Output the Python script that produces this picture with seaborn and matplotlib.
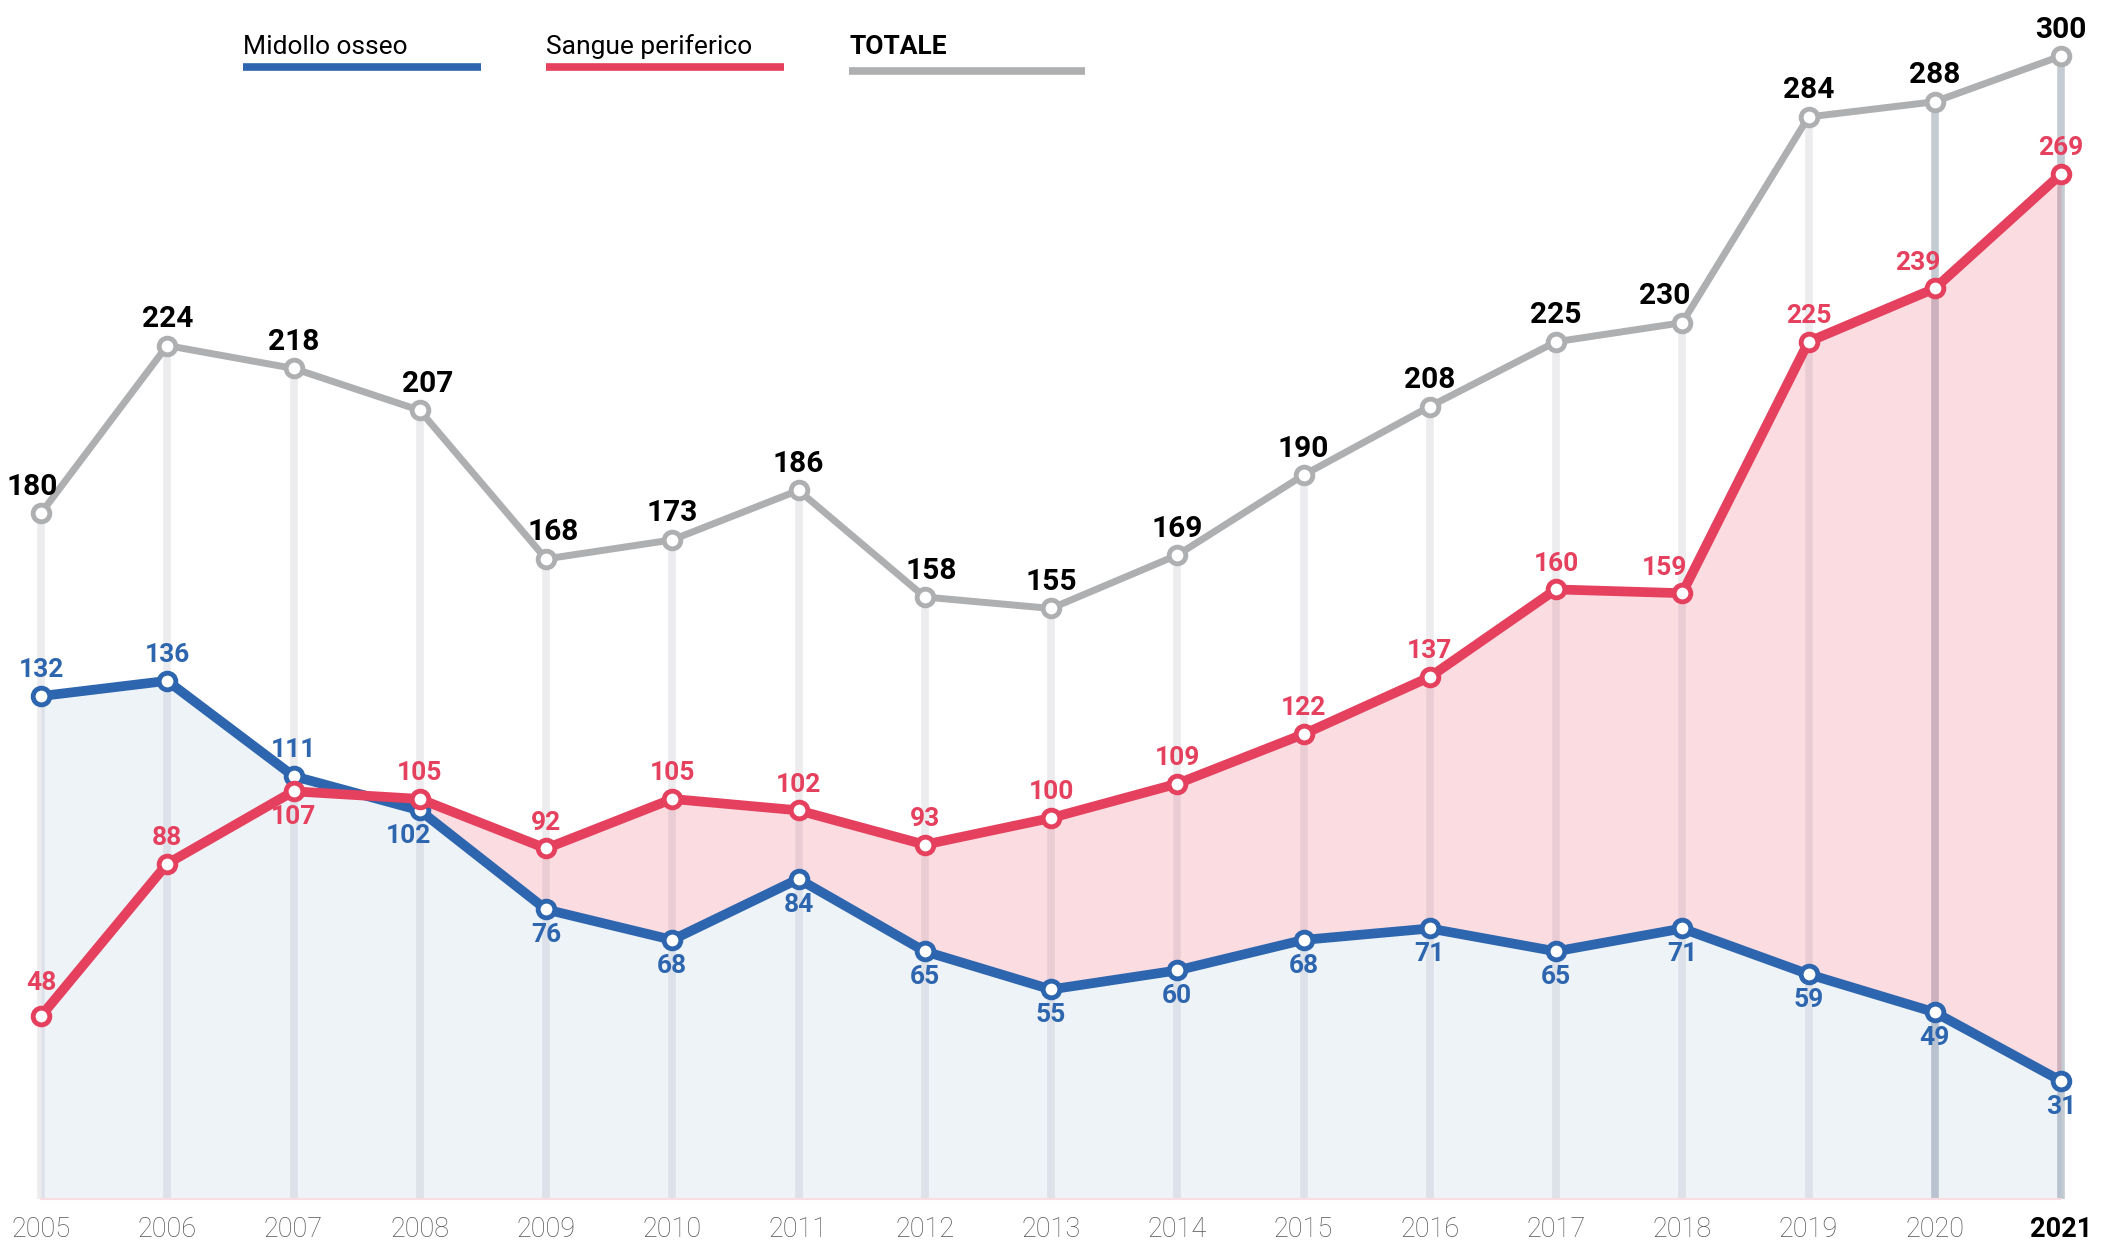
import matplotlib
matplotlib.use("Agg")
import matplotlib.pyplot as plt
from matplotlib.lines import Line2D
import numpy as np
import pandas as pd
import seaborn as sns

# ---- data ----
years = [2005, 2006, 2007, 2008, 2009, 2010, 2011, 2012, 2013,
         2014, 2015, 2016, 2017, 2018, 2019, 2020, 2021]
midollo = [132, 136, 111, 102, 76, 68, 84, 65, 55, 60, 68, 71, 65, 71, 59, 49, 31]
sangue = [48, 88, 107, 105, 92, 105, 102, 93, 100, 109, 122, 137, 160, 159, 225, 239, 269]
totale = [180, 224, 218, 207, 168, 173, 186, 158, 155, 169, 190, 208, 225, 230, 284, 288, 300]
legend_labels = ["Midollo osseo", "Sangue periferico", "TOTALE"]

# label placement (+1 above the point, -1 below)
midollo_side = [1, 1, 1, -1, -1, -1, -1, -1, -1, -1, -1, -1, -1, -1, -1, -1, -1]
sangue_side = [1, 1, -1, 1, 1, 1, 1, 1, 1, 1, 1, 1, 1, 1, 1, 1, 1]

df = pd.DataFrame({"anno": years, "midollo": midollo,
                   "sangue": sangue, "totale": totale})

BLUE = "#2d66ae"
RED = "#e5405e"
GRAY = "#aeafb1"
GRID_LIGHT = "#ececef"
GRID_DARK = "#c5cbd2"

sns.set_theme(style="white")
plt.rcParams["font.family"] = ["Roboto", "DejaVu Sans"]

W, H = 2109, 1243
fig = plt.figure(figsize=(W / 100, H / 100), dpi=100)
ax = fig.add_axes([0, 0, 1, 1])

# pixel -> data layout
px_per_year = 126.25
x0_px = 41
xlim = (2005 - x0_px / px_per_year, 2021 + (W - 2061) / px_per_year)
zero_px, px_per_unit = 1199, 3.81
ylim = (-(H - zero_px) / px_per_unit, zero_px / px_per_unit)
ax.axis("off")

# vertical guides from the baseline up to each total
for yr, tot in zip(years, totale):
    c = GRID_DARK if yr >= 2020 else GRID_LIGHT
    ax.plot([yr, yr], [0, tot], color=c, lw=5.5, zorder=1, solid_capstyle="butt")

# areas
yrs = np.array(years, dtype=float)
mid = np.array(midollo, dtype=float)
san = np.array(sangue, dtype=float)
ax.fill_between(yrs, 0, mid, color=BLUE, alpha=0.08, lw=0, zorder=2)
ax.fill_between(yrs, mid, san, where=san >= mid, interpolate=True,
                color=RED, alpha=0.18, lw=0, zorder=2)
ax.plot([years[0], years[-1]], [0, 0], color="#fadde2", lw=1.5, zorder=2)

# lines
common = dict(marker="o", markersize=12, markerfacecolor="white",
              markeredgewidth=3.5, solid_joinstyle="round", legend=False)
sns.lineplot(data=df, x="anno", y="totale", ax=ax, color=GRAY, lw=5,
             markeredgecolor=GRAY, zorder=3, **common)
sns.lineplot(data=df, x="anno", y="midollo", ax=ax, color=BLUE, lw=7,
             markeredgecolor=BLUE, zorder=4, **common)
sns.lineplot(data=df, x="anno", y="sangue", ax=ax, color=RED, lw=7,
             markeredgecolor=RED, zorder=5, **common)
ax.set_xlim(*xlim)
ax.set_ylim(*ylim)

# value labels
tot_dx = {2005: -6, 2008: 6, 2009: 5, 2012: 5, 2018: -13}
san_dx = {2018: -13, 2020: -12}
san_dy = {2005: 24}
mid_dx = {2008: -8}

for yr, v in zip(years, totale):
    ax.annotate(str(v), (yr, v), xytext=(tot_dx.get(yr, 0), 9),
                textcoords="offset points", ha="center", va="bottom",
                fontsize=21.5, fontweight="bold", color="black", zorder=6)
for yr, v, s in zip(years, midollo, midollo_side):
    ax.annotate(str(v), (yr, v), xytext=(mid_dx.get(yr, 0), 18.5 * s),
                textcoords="offset points", ha="center", va="center",
                fontsize=19, fontweight="bold", color=BLUE, zorder=6)
for yr, v, s in zip(years, sangue, sangue_side):
    ax.annotate(str(v), (yr, v),
                xytext=(san_dx.get(yr, 0), san_dy.get(yr, 18.5) * s),
                textcoords="offset points", ha="center", va="center",
                fontsize=19, fontweight="bold", color=RED, zorder=6)

# year labels
for yr in years:
    last = yr == years[-1]
    ax.text(yr, -7.9, str(yr), ha="center", va="center", fontsize=19.5,
            fontweight="bold" if last else "light",
            color="black" if last else "#555555")

# legend
legend_items = [
    (legend_labels[0], BLUE, 243, 481, 67, "normal"),
    (legend_labels[1], RED, 546, 784, 67, "normal"),
    (legend_labels[2], GRAY, 849, 1085, 71, "bold"),
]
for text, col, xa, xb, yl, wt in legend_items:
    fig.text(xa / W, 1 - 54 / H, text, ha="left", va="baseline",
             fontsize=19, fontweight=wt, color="black")
    fig.add_artist(Line2D([xa / W, xb / W], [1 - yl / H, 1 - yl / H],
                          transform=fig.transFigure, color=col, lw=5.5,
                          solid_capstyle="butt"))

fig.savefig("out.png", dpi=100)
